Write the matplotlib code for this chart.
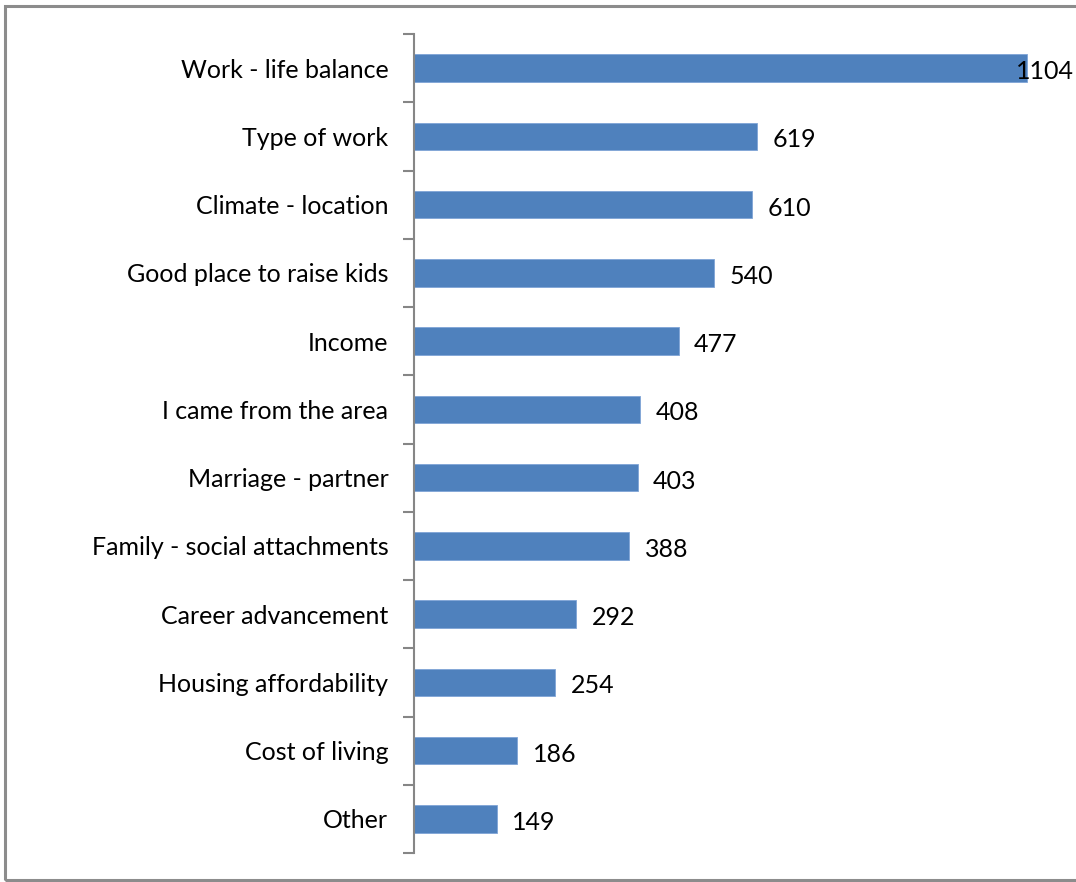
import matplotlib.pyplot as plt
from matplotlib.patches import Rectangle
import numpy as np

categories = ["Work - life balance", "Type of work", "Climate - location",
              "Good place to raise kids", "Income", "I came from the area",
              "Marriage - partner", "Family - social attachments",
              "Career advancement", "Housing affordability", "Cost of living",
              "Other"]
values = [1104, 619, 610, 540, 477, 408, 403, 388, 292, 254, 186, 149]

plt.rcParams['font.family'] = ['Lato', 'DejaVu Sans']

fig = plt.figure(figsize=(10.76, 8.82), dpi=100)
ax = fig.add_axes([414/1076, 1 - 853/882, 1 - 414/1076, (853 - 34)/882])

n = len(categories)
y = np.arange(n)[::-1]
ax.barh(y, values, height=0.4, color='#4F81BD', edgecolor='#7FA4D6', linewidth=0.6)

ax.set_xlim(0, 1193)
ax.set_ylim(-0.5, n - 0.5)
ax.set_xticks([])
ax.set_yticks(y)
ax.set_yticklabels(categories, fontsize=18)
ax.tick_params(axis='y', which='major', length=0, pad=18.5)
ax.set_yticks(np.arange(-0.5, n, 1), minor=True)
ax.tick_params(axis='y', which='minor', length=8, width=1.5, color='#868686')

for s in ['top', 'right', 'bottom']:
    ax.spines[s].set_visible(False)
ax.spines['left'].set_color('#868686')
ax.spines['left'].set_linewidth(1.5)

for yi, v in zip(y, values):
    x = v + 28
    if x + 70 > 1193:
        ax.text(1190, yi - 0.05, str(v), ha='right', va='center', fontsize=18)
    else:
        ax.text(x, yi - 0.05, str(v), ha='left', va='center', fontsize=18)

fig.patches.append(Rectangle((5/1076, 2/882), 1.2, 874/882, transform=fig.transFigure,
                             fill=False, edgecolor='#8C8C8C', linewidth=2.2))

fig.savefig('out.png', dpi=100)
